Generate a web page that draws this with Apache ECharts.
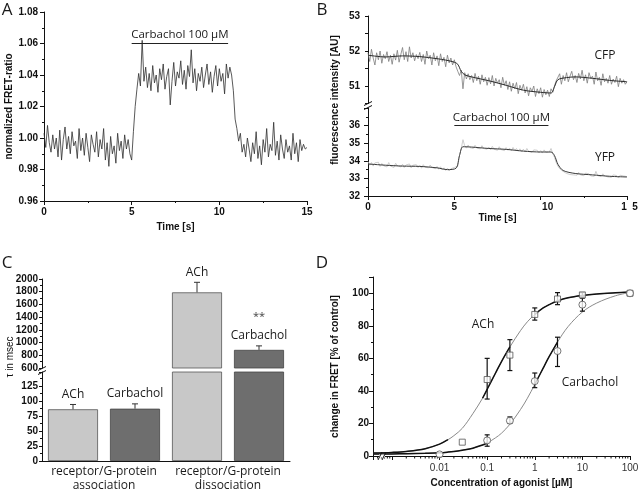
<!DOCTYPE html>
<html>
<head>
<meta charset="utf-8">
<script src="https://cdn.jsdelivr.net/npm/echarts@6/dist/echarts.min.js"></script>
<style>
  html, body { margin: 0; padding: 0; background: #fff; }
  #chart { width: 640px; height: 490px; }
</style>
</head>
<body>
<div id="chart"></div>
<script>
  // ---- Panel A: normalized FRET ratio, one sample every 0.1 s ----
  var SAMPLE_DT = 0.1;
  var fretRatio = [
    1.003, 0.994, 1.008, 0.997, 0.991, 1.002, 0.993, 1.000, 0.988, 1.005,
    0.986, 0.999, 1.007, 0.993, 1.001, 0.990, 1.004, 0.995, 0.998, 0.987,
    1.006, 0.992, 1.000, 0.989, 1.003, 0.994, 0.985, 1.002, 0.996, 0.991,
    1.004, 0.988, 0.999, 0.993, 1.006, 0.986, 0.997, 0.982, 1.001, 0.990,
    0.995, 0.984, 1.003, 0.992, 0.998, 0.987, 1.002, 0.993, 0.999, 0.990,
    0.986, 1.004, 1.020, 1.031, 1.041, 1.033, 1.062, 1.036, 1.045, 1.032,
    1.041, 1.030, 1.046, 1.035, 1.040, 1.029, 1.044, 1.037, 1.047, 1.031,
    1.039, 1.044, 1.021, 1.036, 1.048, 1.033, 1.042, 1.038, 1.049, 1.034,
    1.043, 1.031, 1.046, 1.039, 1.056, 1.035, 1.044, 1.030, 1.041, 1.036,
    1.045, 1.032, 1.040, 1.047, 1.034, 1.042, 1.029, 1.039, 1.046, 1.033,
    1.044, 1.036, 1.041, 1.028, 1.047, 1.038, 1.045, 1.040, 1.030, 1.012,
    1.006, 0.998, 1.003, 0.991, 0.996, 0.988, 1.000, 0.993, 0.985, 0.997,
    0.990, 1.004, 0.987, 0.995, 0.983, 0.999, 0.991, 1.006, 0.988, 0.996,
    0.992, 1.010, 0.989, 0.998, 0.986, 1.002, 0.993, 0.987, 0.999, 0.991,
    0.995, 0.986, 1.003, 0.990, 0.997, 0.985, 0.999, 0.992, 0.996, 0.993,
    0.994
  ];
  var drugOnA = [5, 10.5];
  var drugBarA = 1.0601;

  // ---- Panel B: CFP / YFP intensities (raw every 0.1 s + smoothed trace) ----
  var cfpRaw = [
    51.95, 51.70, 52.05, 51.80, 51.60, 51.95, 51.75, 52.00, 51.65, 51.90,
    51.78, 51.98, 51.70, 51.88, 51.62, 51.92, 51.74, 52.02, 51.68, 51.90,
    52.10, 51.75, 51.98, 51.70, 52.12, 51.80, 51.95, 51.72, 51.90, 51.78,
    51.96, 51.70, 51.90, 51.62, 52.00, 51.78, 51.88, 51.60, 51.95, 51.72,
    51.86, 51.58, 51.92, 51.70, 51.82, 51.55, 51.88, 51.66, 51.80, 51.60,
    51.75, 51.55, 51.42, 51.30, 51.45, 50.92, 51.38, 51.20, 51.35, 51.18,
    51.30, 51.10, 51.36, 51.15, 51.28, 51.05, 51.32, 51.12, 51.25, 51.02,
    51.24, 51.06, 51.30, 51.00, 51.22, 51.08, 51.18, 50.95, 51.25, 51.02,
    51.15, 50.90, 51.12, 50.85, 51.08, 50.92, 51.10, 50.78, 51.02, 50.88,
    51.05, 50.80, 50.98, 50.72, 50.95, 50.85, 51.00, 50.70, 50.92, 50.78,
    50.95, 50.68, 50.90, 50.75, 50.88, 50.70, 50.92, 50.82, 51.00, 51.15,
    51.10, 51.35, 51.05, 51.30, 51.15, 51.38, 51.12, 51.28, 51.42, 51.18,
    51.30, 51.10, 51.36, 51.20, 51.45, 51.15, 51.32, 51.08, 51.38, 51.22,
    51.28, 51.05, 51.40, 51.15, 51.25, 51.02, 51.35, 51.12, 51.22, 51.08,
    51.30, 51.05, 51.20, 51.10, 51.28, 50.98, 51.22, 51.08, 51.18, 51.05,
    51.12
  ];
  var cfpFitTime = [0, 1, 2, 3, 4, 4.5, 5, 5.2, 5.4, 5.6, 6, 7, 8, 9, 10, 10.6, 10.8, 11, 11.5, 12, 13, 14, 15];
  var cfpFit = [51.88, 51.83, 51.86, 51.84, 51.78, 51.74, 51.68, 51.62, 51.42, 51.32, 51.26, 51.15, 51.02, 50.88, 50.82, 50.80, 50.98, 51.18, 51.24, 51.26, 51.22, 51.16, 51.12];

  var yfpRaw = [
    33.95, 33.75, 33.90, 33.70, 33.88, 33.78, 33.92, 33.68, 33.85, 33.72,
    33.82, 33.65, 33.90, 33.70, 33.80, 33.62, 33.86, 33.72, 33.78, 33.65,
    33.80, 33.62, 33.76, 33.68, 33.82, 33.60, 33.75, 33.66, 33.78, 33.62,
    33.74, 33.58, 33.78, 33.64, 33.72, 33.60, 33.76, 33.62, 33.70, 33.55,
    33.68, 33.52, 33.66, 33.48, 33.60, 33.45, 33.58, 33.42, 33.55, 33.50,
    33.62, 33.55, 33.70, 34.30, 34.70, 35.20, 34.85, 34.72, 34.90, 34.75,
    34.85, 34.70, 34.88, 34.72, 34.82, 34.68, 34.86, 34.70, 34.80, 34.66,
    34.78, 34.64, 34.82, 34.66, 34.76, 34.60, 34.80, 34.64, 34.74, 34.58,
    34.75, 34.60, 34.72, 34.56, 34.76, 34.58, 34.70, 34.55, 34.68, 34.52,
    34.66, 34.50, 34.70, 34.54, 34.64, 34.48, 34.62, 34.52, 34.60, 34.45,
    34.58, 34.44, 34.62, 34.48, 34.56, 34.50, 34.70, 34.42, 34.20, 33.90,
    33.70, 33.55, 33.48, 33.40, 33.35, 33.28, 33.36, 33.22, 33.32, 33.20,
    33.30, 33.18, 33.34, 33.20, 33.28, 33.15, 33.30, 33.22, 33.26, 33.14,
    33.24, 33.12, 33.40, 33.16, 33.22, 33.10, 33.26, 33.14, 33.20, 33.08,
    33.18, 33.06, 33.20, 33.10, 33.16, 33.02, 33.18, 33.08, 33.14, 33.05,
    33.10
  ];
  var yfpFitTime = [0, 1, 2, 3, 4, 4.6, 5.1, 5.3, 5.5, 6, 7, 8, 9, 10, 10.6, 10.8, 11.0, 11.3, 12, 13, 14, 15];
  var yfpFit = [33.82, 33.75, 33.70, 33.68, 33.60, 33.50, 33.58, 34.30, 34.80, 34.78, 34.70, 34.65, 34.55, 34.50, 34.50, 34.30, 33.80, 33.45, 33.28, 33.20, 33.12, 33.08];
  var drugOnB = [5, 10.45];
  var drugBarB = 36;

  // ---- Panel C: time constants (msec) ----
  var tauCategories = ['receptor/G-protein\nassociation', 'receptor/G-protein\ndissociation'];
  var tauAch = [86, 1790];
  var tauAchErr = [8, 158];
  var tauCarb = [87, 885];
  var tauCarbErr = [8, 63];
  var tauCarbStars = ['', '**'];
  var tauLowMax = 148;   // top of the lower (broken) axis segment
  var tauHighMin = 600;  // bottom of the upper axis segment

  // ---- Panel D: concentration-response ----
  var achConc = [0.03, 0.1, 0.3, 1, 3, 10, 100];
  var achResp = [8.5, 47, 62, 87, 96.5, 99, 100];
  var achLo = ['-', 35, 52.5, 83.5, 93, 98, '-'];
  var achHi = ['-', 60, 71.5, 91, 100.4, 100.4, '-'];
  var carbConc = [0.01, 0.1, 0.3, 1, 3, 10, 100];
  var carbResp = [1, 9.6, 21.7, 46, 64.5, 93, 100];
  var carbLo = ['-', 6, 20, 42, 55, 89, '-'];
  var carbHi = ['-', 13, 24, 51, 73, 97, '-'];
  var fitConc = [0.0004, 0.001, 0.002, 0.005, 0.01, 0.015, 0.02, 0.03, 0.05, 0.08, 0.1, 0.15, 0.2, 0.3, 0.5, 0.7, 1, 1.5, 2, 3, 5, 10, 20, 50, 100];
  var achFit = [1.8, 2.2, 2.8, 4.5, 7.3, 10, 12.5, 17, 26, 35.5, 41, 51, 58, 67, 77, 82.5, 87, 91, 93, 95.3, 97.2, 98.6, 99.5, 100.3, 100.8];
  var carbFit = [1.2, 1.3, 1.4, 1.7, 2.0, 2.4, 2.8, 3.6, 4.8, 6.8, 8, 11.2, 14, 19.5, 28.5, 35.5, 44, 54, 61, 70, 79.5, 88.5, 94, 98.5, 100.5];
  // parts of the fitted curves drawn heavier in the original figure
  var achBoldRanges = [[0.0004, 0.015], [0.08, 0.3], [1, 100]];
  var carbBoldRanges = [[0.0004, 0.1], [1, 3]];

  // ---- helpers ----
  var TICK_FAMILY = '"Liberation Sans", Arial, sans-serif';
  var NOTE_FAMILY = '"Open Sans", "Noto Sans", sans-serif';
  var INK = '#111';
  var BAR_W = 50, BAR_GAP = 12;

  function timed(values) {
    return values.map(function (v, i) { return [+(i * SAMPLE_DT).toFixed(1), v]; });
  }
  function paired(xs, ys) {
    return xs.map(function (x, i) { return [x, ys[i]]; });
  }
  function inRanges(x, ranges) {
    return ranges.some(function (r) { return x >= r[0] && x <= r[1]; });
  }
  function boldPart(xs, ys, ranges) {
    return xs.map(function (x, i) { return [x, inRanges(x, ranges) ? ys[i] : '-']; });
  }
  function merge(a, b) {
    for (var k in b) {
      if (b[k] && typeof b[k] === 'object' && !Array.isArray(b[k]) && a[k] && typeof a[k] === 'object') {
        merge(a[k], b[k]);
      } else {
        a[k] = b[k];
      }
    }
    return a;
  }
  function axis(extra) {
    return merge({
      axisLine: { show: true, onZero: false, lineStyle: { color: INK, width: 1 } },
      axisTick: { show: true, length: 4, lineStyle: { color: INK } },
      minorTick: { show: false, length: 2, lineStyle: { color: INK } },
      splitLine: { show: false },
      axisLabel: { fontFamily: TICK_FAMILY, fontWeight: 'bold', fontSize: 10, color: INK, margin: 6 },
      nameLocation: 'middle',
      nameTextStyle: { fontFamily: TICK_FAMILY, fontWeight: 'bold', fontSize: 10, color: INK }
    }, extra);
  }
  function note(text, x, y, size, extra) {
    return merge({
      type: 'text', x: x, y: y, silent: true,
      style: { text: text, fill: '#1a1a1a', font: size + 'px ' + NOTE_FAMILY, align: 'center', verticalAlign: 'middle' }
    }, extra || {});
  }
  function breakMarks(x, y, vertical) {
    // two short slashes marking an axis break
    var out = [];
    [-2, 2].forEach(function (d) {
      out.push({
        type: 'line', silent: true, z: 100,
        shape: vertical
          ? { x1: x - 4, y1: y + d + 2, x2: x + 4, y2: y + d - 2 }
          : { x1: x + d - 2, y1: y + 4, x2: x + d + 2, y2: y - 4 },
        style: { stroke: INK, lineWidth: 1 }
      });
    });
    return out;
  }

  // minor ticks of the log axis (2..9 of each decade)
  var minorConc = [];
  [0.0001, 0.001, 0.01, 0.1, 1, 10].forEach(function (d) {
    for (var k = 2; k <= 9; k++) {
      var v = +(k * d).toPrecision(2);
      if (v > 0.0004 && v < 100) minorConc.push(v);
    }
  });

  // error bars + labels over the bars of panel C
  function tauErrSeries(xIdx, yIdx, values, errs, side, label, stars, keep) {
    var data = [];
    values.forEach(function (v, i) { if (keep(v)) data.push([i, v, errs[i], i]); });
    return {
      type: 'custom', xAxisIndex: xIdx, yAxisIndex: yIdx, z: 5, silent: true,
      data: data,
      renderItem: function (params, api) {
        var cat = api.value(0), v = api.value(1), e = api.value(2), idx = api.value(3);
        var base = api.coord([cat, v]);
        var tip = api.coord([cat, v + e]);
        var x = base[0] + side * (BAR_W + BAR_GAP) / 2;
        var kids = [
          { type: 'line', shape: { x1: x, y1: base[1], x2: x, y2: tip[1] }, style: { stroke: '#333', lineWidth: 1 } },
          { type: 'line', shape: { x1: x - 3, y1: tip[1], x2: x + 3, y2: tip[1] }, style: { stroke: '#333', lineWidth: 1 } },
          { type: 'text', x: x, y: tip[1] - 10, style: { text: label, fill: '#1a1a1a', font: '12px ' + NOTE_FAMILY, align: 'center', verticalAlign: 'middle' } }
        ];
        if (stars && stars[idx]) {
          kids.push({ type: 'text', x: x, y: tip[1] - 29, style: { text: stars[idx], fill: '#444', font: '11px ' + NOTE_FAMILY, align: 'center', verticalAlign: 'middle' } });
        }
        return { type: 'group', children: kids };
      }
    };
  }

  function doseErrSeries(conc, lo, hi) {
    var data = [];
    conc.forEach(function (c, i) { if (lo[i] !== '-') data.push([c, lo[i], hi[i]]); });
    return {
      type: 'custom', xAxisIndex: 3, yAxisIndex: 5, z: 4, silent: true,
      data: data,
      renderItem: function (params, api) {
        var p1 = api.coord([api.value(0), api.value(1)]);
        var p2 = api.coord([api.value(0), api.value(2)]);
        var s = { stroke: '#111', lineWidth: 1.2 };
        return {
          type: 'group', children: [
            { type: 'line', shape: { x1: p1[0], y1: p1[1], x2: p2[0], y2: p2[1] }, style: s },
            { type: 'line', shape: { x1: p1[0] - 2.5, y1: p1[1], x2: p1[0] + 2.5, y2: p1[1] }, style: s },
            { type: 'line', shape: { x1: p2[0] - 2.5, y1: p2[1], x2: p2[0] + 2.5, y2: p2[1] }, style: s }
          ]
        };
      }
    };
  }

  var minorTickSeries = {
    type: 'custom', xAxisIndex: 3, yAxisIndex: 5, z: 3, silent: true,
    data: minorConc.map(function (c) { return [c, 0]; }),
    renderItem: function (params, api) {
      var p = api.coord([api.value(0), api.value(1)]);
      return { type: 'line', shape: { x1: p[0], y1: p[1], x2: p[0], y2: p[1] + 2.5 }, style: { stroke: INK, lineWidth: 1 } };
    }
  };

  function drugMark(y, on, dist) {
    return {
      silent: true, symbol: ['none', 'none'], animation: false,
      lineStyle: { color: '#222', width: 1, type: 'solid' },
      label: { show: true, position: 'insideMiddleTop', distance: dist, formatter: 'Carbachol 100 \u00b5M', fontFamily: NOTE_FAMILY, fontSize: 11.5, color: '#1a1a1a' },
      emphasis: { disabled: true },
      data: [[{ coord: [on[0], y] }, { coord: [on[1], y] }]]
    };
  }

  var chart = echarts.init(document.getElementById('chart'), null, { renderer: 'canvas' });

  var option = {
    animation: false,
    backgroundColor: '#fff',
    textStyle: { fontFamily: TICK_FAMILY },
    grid: [
      { left: 44, top: 12, width: 263, height: 189, containLabel: false, outerBoundsMode: 'none' },    // A
      { left: 368, top: 16, width: 259, height: 87.5, containLabel: false, outerBoundsMode: 'none' },  // B upper
      { left: 368, top: 108, width: 259, height: 88, containLabel: false, outerBoundsMode: 'none' },   // B lower
      { left: 42, top: 279, width: 248, height: 89, containLabel: false, outerBoundsMode: 'none' },    // C upper
      { left: 42, top: 372, width: 248, height: 89, containLabel: false, outerBoundsMode: 'none' },    // C lower
      { left: 373, top: 277, width: 257, height: 179, containLabel: false, outerBoundsMode: 'none' }   // D
    ],
    xAxis: [
      axis({ gridIndex: 0, type: 'value', min: 0, max: 15, interval: 5,
        minorTick: { show: true, splitNumber: 2 },
        name: 'Time [s]', nameGap: 21 }),
      axis({ gridIndex: 1, type: 'value', min: 0, max: 15, show: false }),
      axis({ gridIndex: 2, type: 'value', min: 0, max: 15, interval: 5,
        minorTick: { show: true, splitNumber: 2 },
        axisLabel: {
          formatter: function (v) {
            if (v === 10) return '{sh|10}';
            if (v === 15) return '{sh2|1  5}';
            return String(v);
          },
          rich: {
            sh: { fontFamily: TICK_FAMILY, fontWeight: 'bold', fontSize: 10, color: INK, padding: [0, 0, 0, 14] },
            sh2: { fontFamily: TICK_FAMILY, fontWeight: 'bold', fontSize: 10, color: INK, padding: [0, 0, 0, 5] }
          }
        },
        name: 'Time [s]', nameGap: 13 }),
      axis({ gridIndex: 5, type: 'log', logBase: 10, min: 0.0004, max: 100, position: 'bottom',
        axisLine: { show: true, lineStyle: { color: INK, width: 1 } },
        axisTick: { length: 4 },
        axisLabel: {
          fontWeight: 'normal', color: '#333', margin: 7,
          formatter: function (v) { return v < 0.005 ? '' : String(parseFloat(Number(v).toPrecision(2))); }
        },
        name: 'Concentration of agonist [\u00b5M]', nameGap: 22 }),
      axis({ gridIndex: 3, type: 'category', data: tauCategories, show: false }),
      axis({ gridIndex: 4, type: 'category', data: tauCategories,
        axisTick: { show: false },
        axisLabel: { interval: 0, fontFamily: NOTE_FAMILY, fontWeight: 'normal', fontSize: 12, color: '#1a1a1a', lineHeight: 14, margin: 4 } })
    ],
    yAxis: [
      axis({ gridIndex: 0, type: 'value', min: 0.96, max: 1.08, interval: 0.02,
        minorTick: { show: true, splitNumber: 2 },
        axisLabel: { formatter: function (v) { return v.toFixed(2); } },
        name: 'normalized FRET-ratio', nameGap: 29 }),
      axis({ gridIndex: 1, type: 'value', min: 50.5, max: 53, interval: 0.5,
        axisTick: { length: 3 },
        axisLabel: { margin: 8, customValues: [51, 52, 53] } }),
      axis({ gridIndex: 2, type: 'value', min: 32, max: 37, interval: 1,
        minorTick: { show: true, splitNumber: 2 },
        axisLabel: { margin: 8, customValues: [32, 33, 34, 35, 36] } }),
      axis({ gridIndex: 3, type: 'value', min: tauHighMin, max: 2000, interval: 200,
        axisTick: { length: 3 },
        minorTick: { show: true, splitNumber: 2 },
        axisLabel: { margin: 4, formatter: function (v) { return String(v); } } }),
      axis({ gridIndex: 4, type: 'value', min: 0, max: tauLowMax, interval: 25,
        axisTick: { length: 3 },
        minorTick: { show: true, splitNumber: 2 },
        axisLabel: { margin: 4, customValues: [0, 25, 50, 75, 100, 125] } }),
      axis({ gridIndex: 5, type: 'value', min: 0, max: 110, interval: 20,
        minorTick: { show: true, splitNumber: 2 },
        axisLabel: { margin: 4, customValues: [0, 20, 40, 60, 80, 100] },
        name: 'change in FRET [% of control]', nameGap: 33 })
    ],
    series: [
      // A
      { type: 'line', xAxisIndex: 0, yAxisIndex: 0, data: timed(fretRatio), showSymbol: false, silent: true,
        lineStyle: { color: '#2e2e2e', width: 0.8 }, markLine: drugMark(drugBarA, drugOnA, 3) },
      // B
      { type: 'line', xAxisIndex: 1, yAxisIndex: 1, data: timed(cfpRaw), showSymbol: false, silent: true,
        lineStyle: { color: '#7d7d7d', width: 0.8 } },
      { type: 'line', xAxisIndex: 1, yAxisIndex: 1, data: paired(cfpFitTime, cfpFit), showSymbol: false, silent: true,
        smooth: 0.3, lineStyle: { color: '#2a2a2a', width: 1 } },
      { type: 'line', xAxisIndex: 2, yAxisIndex: 2, data: timed(yfpRaw), showSymbol: false, silent: true,
        lineStyle: { color: '#c2c2c2', width: 0.8 } },
      { type: 'line', xAxisIndex: 2, yAxisIndex: 2, data: paired(yfpFitTime, yfpFit), showSymbol: false, silent: true,
        smooth: 0.3, lineStyle: { color: '#3a3a3a', width: 1 }, markLine: drugMark(drugBarB, drugOnB, 2) },
      // C: upper segment
      { type: 'bar', xAxisIndex: 4, yAxisIndex: 3, barWidth: BAR_W, barGap: '24%', silent: true,
        data: tauAch.map(function (v) { return v > tauLowMax ? v : '-'; }),
        itemStyle: { color: '#c8c8c8', borderColor: '#555', borderWidth: 0.8 } },
      { type: 'bar', xAxisIndex: 4, yAxisIndex: 3, barWidth: BAR_W, barGap: '24%', silent: true,
        data: tauCarb.map(function (v) { return v > tauLowMax ? v : '-'; }),
        itemStyle: { color: '#6e6e6e', borderColor: '#444', borderWidth: 0.8 } },
      // C: lower segment (tall bars are clipped at the break)
      { type: 'bar', xAxisIndex: 5, yAxisIndex: 4, barWidth: BAR_W, barGap: '24%', silent: true, clip: true,
        data: tauAch, itemStyle: { color: '#c8c8c8', borderColor: '#555', borderWidth: 0.8 } },
      { type: 'bar', xAxisIndex: 5, yAxisIndex: 4, barWidth: BAR_W, barGap: '24%', silent: true, clip: true,
        data: tauCarb, itemStyle: { color: '#6e6e6e', borderColor: '#444', borderWidth: 0.8 } },
      tauErrSeries(4, 3, tauAch, tauAchErr, -1, 'ACh', null, function (v) { return v > tauLowMax; }),
      tauErrSeries(4, 3, tauCarb, tauCarbErr, 1, 'Carbachol', tauCarbStars, function (v) { return v > tauLowMax; }),
      tauErrSeries(5, 4, tauAch, tauAchErr, -1, 'ACh', null, function (v) { return v <= tauLowMax; }),
      tauErrSeries(5, 4, tauCarb, tauCarbErr, 1, 'Carbachol', tauCarbStars, function (v) { return v <= tauLowMax; }),
      // D: fitted curves
      { type: 'line', xAxisIndex: 3, yAxisIndex: 5, data: paired(fitConc, achFit), showSymbol: false, silent: true,
        smooth: 0.35, lineStyle: { color: '#8a8a8a', width: 1 } },
      { type: 'line', xAxisIndex: 3, yAxisIndex: 5, data: boldPart(fitConc, achFit, achBoldRanges), showSymbol: false, silent: true,
        smooth: 0.35, connectNulls: false, lineStyle: { color: '#111', width: 1.5 } },
      { type: 'line', xAxisIndex: 3, yAxisIndex: 5, data: paired(fitConc, carbFit), showSymbol: false, silent: true,
        smooth: 0.35, lineStyle: { color: '#8a8a8a', width: 1 } },
      { type: 'line', xAxisIndex: 3, yAxisIndex: 5, data: boldPart(fitConc, carbFit, carbBoldRanges), showSymbol: false, silent: true,
        smooth: 0.35, connectNulls: false, lineStyle: { color: '#111', width: 1.5 } },
      minorTickSeries,
      doseErrSeries(achConc, achLo, achHi),
      doseErrSeries(carbConc, carbLo, carbHi),
      { type: 'scatter', xAxisIndex: 3, yAxisIndex: 5, data: paired(achConc, achResp), symbol: 'rect', symbolSize: 6, z: 6, silent: true,
        itemStyle: { color: '#fff', borderColor: '#555', borderWidth: 1 } },
      { type: 'scatter', xAxisIndex: 3, yAxisIndex: 5, data: paired(carbConc, carbResp), symbol: 'circle', symbolSize: 7, z: 6, silent: true,
        itemStyle: { color: '#fff', borderColor: '#555', borderWidth: 1 } }
    ],
    graphic: [
      note('A', 7, 10, 17),
      note('B', 322, 10, 17),
      note('C', 7, 263, 17),
      note('D', 322, 263, 17),
      note('CFP', 605, 56, 12),
      note('YFP', 605, 158, 12),
      note('ACh', 483, 325, 12),
      note('Carbachol', 590, 383, 12),
      { type: 'text', x: 335, y: 100, rotation: Math.PI / 2, silent: true,
        style: { text: 'fluorescence intensity [AU]', fill: INK, font: 'bold 10px ' + TICK_FAMILY, align: 'center', verticalAlign: 'middle' } },
      { type: 'text', x: 10, y: 357, rotation: Math.PI / 2, silent: true,
        style: { text: '\u03c4 in msec', fill: INK, font: '10px ' + TICK_FAMILY, align: 'center', verticalAlign: 'middle' } },
      { type: 'rect', shape: { x: 379, y: 454.5, width: 6, height: 3 }, style: { fill: '#fff' }, silent: true, z: 99 }
    ].concat(breakMarks(368, 105.5, true), breakMarks(42, 370.5, true), breakMarks(382, 456, false))
  };

  chart.setOption(option);
</script>
</body>
</html>
